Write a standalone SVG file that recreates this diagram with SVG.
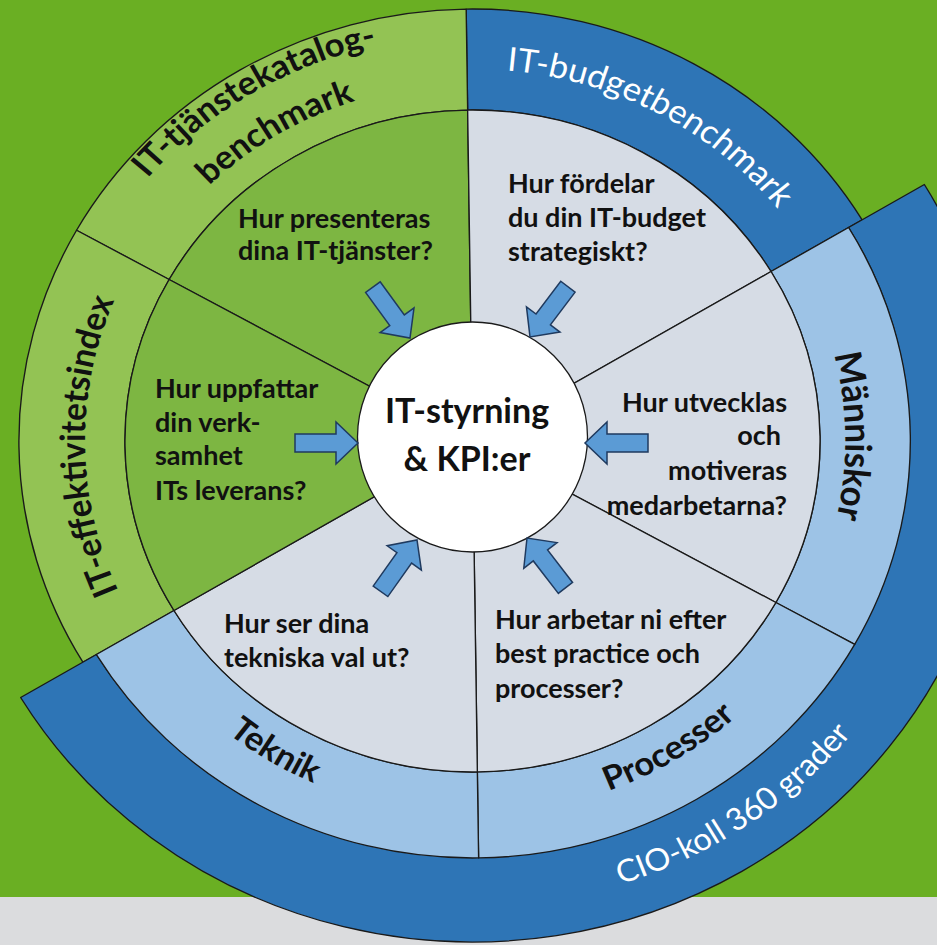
<svg xmlns="http://www.w3.org/2000/svg" width="937" height="945" viewBox="0 0 937 945">
<defs>
<style>
.ln{stroke:#1a1a1a;stroke-width:1.3;stroke-linejoin:round}
.lg{fill:#93C354}
.mg{fill:#7DB642}
.db{fill:#2E75B6}
.lb{fill:#9DC3E6}
.gy{fill:#D6DCE5}
.q{font-family:Lato,'Liberation Sans',sans-serif;font-weight:700;font-size:27px;fill:#111}
.ctr{font-family:Lato,'Liberation Sans',sans-serif;font-weight:700;font-size:34px;fill:#111;text-anchor:middle}
.lab{font-family:Lato,'Liberation Sans',sans-serif;font-weight:700;font-size:33px;fill:#111}
.wl{font-family:Lato,'Liberation Sans',sans-serif;font-weight:400;font-size:33px;fill:#fff}
.arrow{fill:#5B9BD5;stroke:#1F3A5F;stroke-width:1.5;stroke-linejoin:miter}
</style>
<path id="arr" d="M-63,-9 L-22,-9 L-22,-21 L0,0 L-22,21 L-22,9 L-63,9 Z"/>
<path id="p-tj1" d="M-400.43,-67.01 A406,406 0 0 1 135.53,-382.71"/>
<path id="p-tj2" d="M-353.09,-59.09 A358,358 0 0 1 119.50,-337.47"/>
<path id="p-bud" d="M-133.31,-347.29 A372,372 0 0 1 365.17,-70.98"/>
<path id="p-eff" d="M-237.19,282.67 A369,369 0 0 1 -237.19,-282.67"/>
<path id="p-man" d="M228.19,-271.94 A355,355 0 0 1 228.19,271.94"/>
<path id="p-tek" d="M-355.69,115.57 A374,374 0 0 0 52.05,370.36"/>
<path id="p-pro" d="M-61.56,367.89 A373,373 0 0 0 351.60,124.51"/>
<path id="p-cio" d="M-92.71,455.66 A465,465 0 0 0 455.66,92.71"/>
</defs>

<rect x="0" y="0" width="937" height="945" fill="#6AAF23"/>
<rect x="0" y="897" width="937" height="48" fill="#DBDCDE"/>

<g transform="translate(472.5,441) scale(1.05,1) rotate(-0.8)">
  <g id="ring-itbudget">
    <path class="db ln" d="M0,-432 A432,432 0 0 1 374.12,-216 L286.65,-165.5 A331,331 0 0 0 0,-331 Z"/>
    <text class="wl"><textPath href="#p-bud" startOffset="50%" text-anchor="middle">IT-budgetbenchmark</textPath></text>
  </g>
  <g id="ring-tjanstekatalog">
    <path class="lg ln" d="M-374.12,-216 A432,432 0 0 1 0,-432 L0,-331 A331,331 0 0 0 -286.65,-165.5 Z"/>
    <text class="lab"><textPath href="#p-tj1" startOffset="50%" text-anchor="middle">IT-tjänstekatalog-</textPath></text>
    <text class="lab"><textPath href="#p-tj2" startOffset="50%" text-anchor="middle">benchmark</textPath></text>
  </g>
  <g id="ring-effektivitetsindex">
    <path class="lg ln" d="M-374.12,216 A432,432 0 0 1 -374.12,-216 L-286.65,-165.5 A331,331 0 0 0 -286.65,165.5 Z"/>
    <text class="lab"><textPath href="#p-eff" startOffset="50%" text-anchor="middle">IT-effektivitetsindex</textPath></text>
  </g>
  <g id="ring-cio">
    <path class="db ln" d="M433.88,-250.5 A501,501 0 0 1 -433.88,250.5 L-361.13,208.5 A417,417 0 0 0 361.13,-208.5 Z"/>
    <text class="wl" style="font-size:31px"><textPath href="#p-cio" startOffset="50%" text-anchor="middle">CIO-koll 360 grader</textPath></text>
  </g>
  <g id="ring-manniskor">
    <path class="lb ln" d="M361.13,-208.5 A417,417 0 0 1 361.13,208.5 L286.65,165.5 A331,331 0 0 0 286.65,-165.5 Z"/>
    <text class="lab" style="font-size:35px"><textPath href="#p-man" startOffset="50%" text-anchor="middle">Människor</textPath></text>
  </g>
  <g id="ring-processer">
    <path class="lb ln" d="M361.13,208.5 A417,417 0 0 1 0,417 L0,331 A331,331 0 0 0 286.65,165.5 Z"/>
    <text class="lab"><textPath href="#p-pro" startOffset="50%" text-anchor="middle">Processer</textPath></text>
  </g>
  <g id="ring-teknik">
    <path class="lb ln" d="M0,417 A417,417 0 0 1 -361.13,208.5 L-286.65,165.5 A331,331 0 0 0 0,331 Z"/>
    <text class="lab"><textPath href="#p-tek" startOffset="50%" text-anchor="middle">Teknik</textPath></text>
  </g>
  <g id="sectors">
    <path id="sec-presenteras" class="mg ln" d="M0,0 L-286.65,-165.5 A331,331 0 0 1 0,-331 Z"/>
    <path id="sec-fordelar" class="gy ln" d="M0,0 L0,-331 A331,331 0 0 1 286.65,-165.5 Z"/>
    <path id="sec-utvecklas" class="gy ln" d="M0,0 L286.65,-165.5 A331,331 0 0 1 286.65,165.5 Z"/>
    <path id="sec-arbetar" class="gy ln" d="M0,0 L286.65,165.5 A331,331 0 0 1 0,331 Z"/>
    <path id="sec-tekniska" class="gy ln" d="M0,0 L0,331 A331,331 0 0 1 -286.65,165.5 Z"/>
    <path id="sec-uppfattar" class="mg ln" d="M0,0 L-286.65,165.5 A331,331 0 0 1 -286.65,-165.5 Z"/>
  </g>
</g>

<g id="q-presenteras" class="q">
  <text x="238" y="228">Hur presenteras</text>
  <text x="238" y="260">dina IT-tjänster?</text>
</g>
<g id="q-fordelar" class="q">
  <text x="508" y="193">Hur fördelar</text>
  <text x="508" y="227">du din IT-budget</text>
  <text x="508" y="261">strategiskt?</text>
</g>
<g id="q-uppfattar" class="q">
  <text x="155" y="398">Hur uppfattar</text>
  <text x="155" y="432">din verk-</text>
  <text x="155" y="465">samhet</text>
  <text x="155" y="500">ITs leverans?</text>
</g>
<g id="q-utvecklas" class="q" text-anchor="end">
  <text x="787" y="412">Hur utvecklas</text>
  <text x="781" y="445">och</text>
  <text x="787" y="480">motiveras</text>
  <text x="787" y="515">medarbetarna?</text>
</g>
<g id="q-tekniska" class="q">
  <text x="224" y="633">Hur ser dina</text>
  <text x="224" y="667">tekniska val ut?</text>
</g>
<g id="q-arbetar" class="q">
  <text x="495" y="629">Hur arbetar ni efter</text>
  <text x="495" y="663">best practice och</text>
  <text x="495" y="698">processer?</text>
</g>

<g id="center">
  <circle cx="472.5" cy="437" r="115" fill="#fff" class="ln"/>
  <text class="ctr" x="467" y="423">IT-styrning</text>
  <text class="ctr" x="467" y="471">&amp; KPI:er</text>
</g>

<g id="connectors" class="arrow">
  <use href="#arr" transform="translate(410,338) rotate(53.9)"/>
  <use href="#arr" transform="translate(530,337) rotate(127)"/>
  <use href="#arr" transform="translate(358,443) rotate(0)"/>
  <use href="#arr" transform="translate(585,443) rotate(180)"/>
  <use href="#arr" transform="translate(417,540) rotate(-54.6)"/>
  <use href="#arr" transform="translate(527,538) rotate(-127.6)"/>
</g>
</svg>
